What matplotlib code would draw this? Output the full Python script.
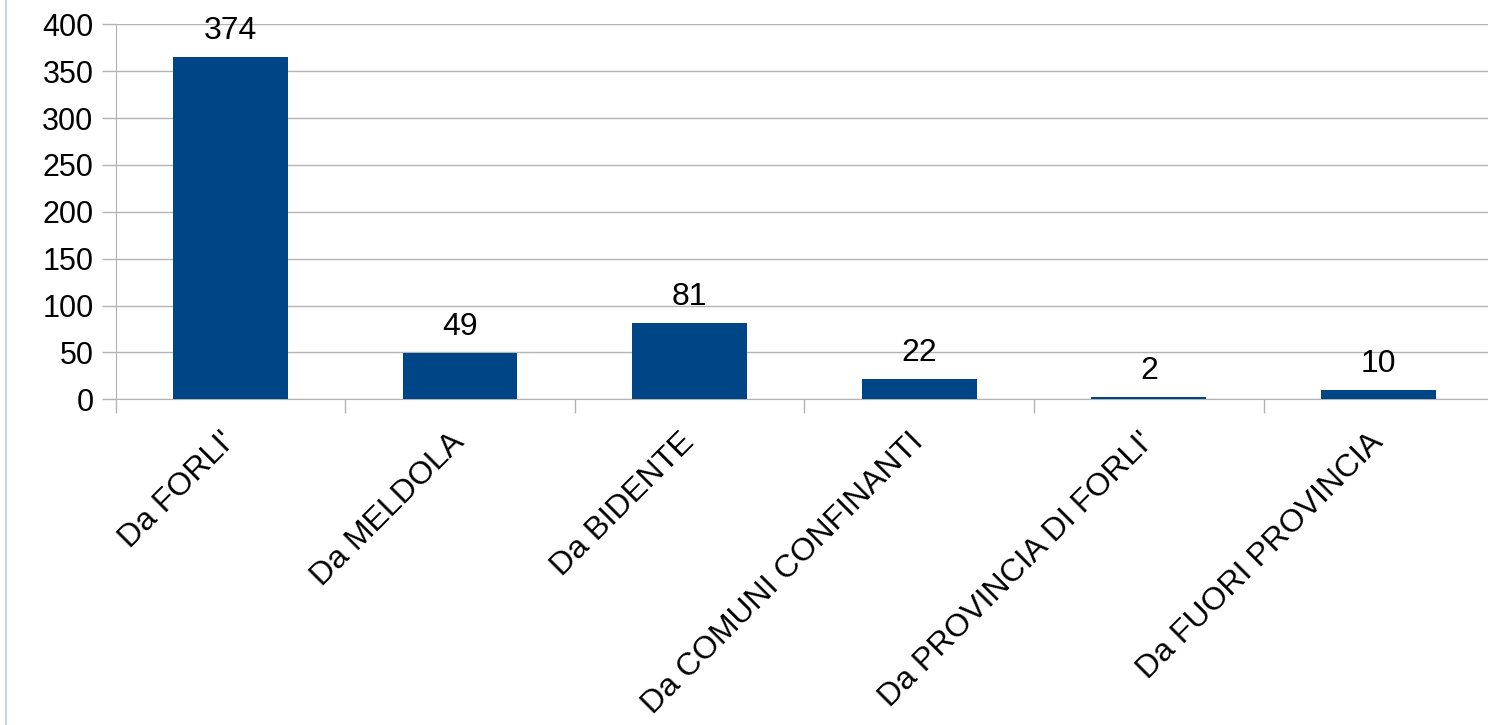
import matplotlib
matplotlib.use("Agg")
import matplotlib.pyplot as plt
from matplotlib.lines import Line2D

plt.rcParams['font.family'] = ['Liberation Sans', 'DejaVu Sans']

categories = ["Da FORLI'", "Da MELDOLA", "Da BIDENTE", "Da COMUNI CONFINANTI",
              "Da PROVINCIA DI FORLI'", "Da FUORI PROVINCIA"]
# bar heights as drawn in the picture (first bar drawn lower than its label)
bar_values = [365, 49, 81, 22, 2, 10]
label_values = [374, 49, 81, 22, 2, 10]
y_ticks = [0, 50, 100, 150, 200, 250, 300, 350, 400]

W, H = 1488, 725
fig = plt.figure(figsize=(W / 100, H / 100), dpi=100)
left, right = 115.7, 1493.3
top, bottom = 24.3, 399.3
ax = fig.add_axes([left / W, 1 - bottom / H, (right - left) / W, (bottom - top) / H])

x = list(range(len(categories)))
ax.bar(x, bar_values, width=0.5, color='#004586', zorder=3)
for xi, b, lab in zip(x, bar_values, label_values):
    ax.annotate(str(lab), (xi, b), xytext=(0, 8), textcoords='offset points',
                ha='center', va='bottom', fontsize=23, color='black')

ax.set_xlim(-0.5, len(categories) - 0.5)
ax.set_ylim(0, 400)
ax.set_yticks(y_ticks)
ax.tick_params(axis='y', labelsize=22, length=10, color='#b3b3b3', width=1, pad=6)
ax.yaxis.grid(True, color='#b3b3b3', linewidth=1, zorder=0)

# x: separator ticks at category boundaries, labels at centers
ax.set_xticks([i - 0.5 for i in range(len(categories) + 1)])
ax.set_xticklabels([])
ax.tick_params(axis='x', which='major', length=10, color='#b3b3b3', width=1)
ax.set_xticks(x, minor=True)
ax.set_xticklabels(categories, minor=True, rotation=45, ha='right', va='center',
                   rotation_mode='anchor', fontsize=23)
ax.tick_params(axis='x', which='minor', length=0, pad=27.5)

for s in ['top', 'right']:
    ax.spines[s].set_visible(False)
ax.spines['left'].set_color('#b3b3b3')
ax.spines['bottom'].set_color('#b3b3b3')
ax.spines['left'].set_zorder(1)

fig.add_artist(Line2D([6.5 / W, 6.5 / W], [0, 1], color='#c5d3e8', linewidth=1.5))

fig.savefig('out.png', dpi=100)
